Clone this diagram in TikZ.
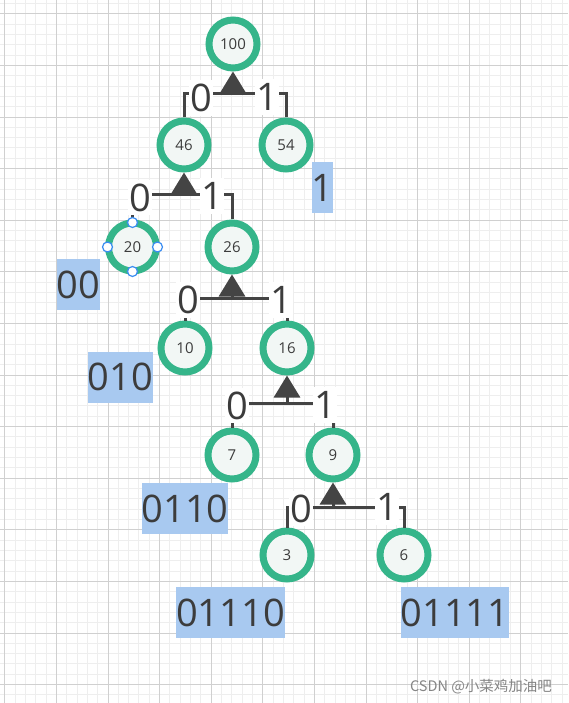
\documentclass[tikz,border=0pt]{standalone}
\usepackage{fontspec}
\setmainfont{Open Sans}
\newfontfamily\cjkfont{Noto Sans CJK SC}
\usetikzlibrary{arrows.meta}
\definecolor{ringgreen}{HTML}{35B58A}
\definecolor{nodefill}{HTML}{F2F7F5}
\definecolor{ink}{HTML}{3C3C3C}
\definecolor{edgegray}{HTML}{444444}
\definecolor{codeblue}{HTML}{A8C9F0}
\definecolor{gridminor}{HTML}{EEEEEE}
\definecolor{gridmajor}{HTML}{D0D0D0}
\definecolor{handleblue}{HTML}{3A8DF2}
\definecolor{markgray}{HTML}{858585}
\begin{document}
\begin{tikzpicture}[x=1pt,y=-1pt,
  tnode/.style={circle, draw=ringgreen, line width=7pt, fill=nodefill, minimum size=48pt, inner sep=0pt, text=ink, font=\fontsize{15}{17}\selectfont},
  edge/.style={draw=edgegray, line width=3pt},
  uparrow/.style={edge, -{Triangle[length=22pt,width=26pt]}},
  bitlabel/.style={fill=white, text=ink, inner xsep=1pt, inner ysep=4pt, font=\fontsize{38}{40}\selectfont},
  codebox/.style={fill=codeblue, text=ink, inner xsep=0pt, inner ysep=0pt, minimum height=51pt, font=\fontsize{38}{40}\selectfont},
  handle/.style={circle, draw=handleblue, fill=white, line width=1.2pt, minimum size=10pt, inner sep=0pt},
  gminor/.style={draw=gridminor, line width=1pt},
  gmajor/.style={draw=gridmajor, line width=1.2pt},
]
\useasboundingbox (0,0) rectangle (568,703);
\fill[white] (0,0) rectangle (568,703);
\begin{scope}
\clip (0,0) rectangle (568,703);
\foreach \i [evaluate=\i as \xx using {round(-6.02+\i*10.32)+0.5}] in {1,...,56} \draw[gminor] (\xx,0) -- (\xx,703);
\foreach \i [evaluate=\i as \yy using {round(2.98+\i*10.32)+0.5}] in {0,...,68} \draw[gminor] (0,\yy) -- (568,\yy);
\foreach \i [evaluate=\i as \xx using {round(4.3+\i*51.6)+0.5}] in {0,...,10} \draw[gmajor] (\xx,0) -- (\xx,703);
\foreach \i [evaluate=\i as \yy using {round(13.3+\i*51.6)+0.5}] in {0,...,13} \draw[gmajor] (0,\yy) -- (568,\yy);
\end{scope}

% tree nodes
\node[tnode] (n100) at (233,44) {100};
\node[tnode] (n46) at (184,145) {46};
\node[tnode] (n54) at (286,145) {54};
\node[tnode] (n20) at (132.5,247) {20};
\node[tnode] (n26) at (232,247) {26};
\node[tnode] (n10) at (185,348) {10};
\node[tnode] (n16) at (287,348) {16};
\node[tnode] (n7) at (232,455) {7};
\node[tnode] (n9) at (333,455) {9};
\node[tnode] (n3) at (287,555) {3};
\node[tnode] (n6) at (404,555) {6};

% junctions
\coordinate (j100) at (233,94);
\coordinate (j46) at (184,195);
\coordinate (j26) at (232,298.5);
\coordinate (j16) at (287,403);
\coordinate (j9) at (333,507);

% connectors
\draw[edge] (n46.north) |- (j100) -| (n54.north);
\draw[uparrow] (j100) -- (n100.south);
\draw[edge] (n20.north) |- (j46) -| (n26.north);
\draw[uparrow] (j46) -- (n46.south);
\draw[edge] (n10.north) |- (j26) -| (n16.north);
\draw[uparrow] (j26) -- (n26.south);
\draw[edge] (n7.north) |- (j16) -| (n9.north);
\draw[uparrow] (j16) -- (n16.south);
\draw[edge] (n3.north) |- (j9) -| (n6.north);
\draw[uparrow] (j9) -- (n9.south);

% edge labels
\node[bitlabel] (l100a) at (201,98) {0};
\node[bitlabel] (l100b) at (267,97) {1};
\node[bitlabel] (l46a) at (140,197.5) {0};
\node[bitlabel] (l46b) at (212,196) {1};
\node[bitlabel] (l26a) at (188,300) {0};
\node[bitlabel] (l26b) at (281,300) {1};
\node[bitlabel] (l16a) at (237,405.5) {0};
\node[bitlabel] (l16b) at (325,405) {1};
\node[bitlabel] (l9a) at (301,508.5) {0};
\node[bitlabel] (l9b) at (387,507) {1};

% selection handles on node 20
\node[handle] (h20n) at ([yshift=24.5pt]n20.center) {};
\node[handle] (h20s) at ([yshift=-24.5pt]n20.center) {};
\node[handle] (h20w) at ([xshift=-25pt]n20.center) {};
\node[handle] (h20e) at ([xshift=25pt]n20.center) {};

% codes
\node[codebox] (c54) at (322.5,187.5) {1};
\node[codebox] (c20) at (78.5,284.5) {00};
\node[codebox] (c10) at (120.5,377) {010};
\node[codebox] (c7) at (185,508.5) {0110};
\node[codebox] (c3) at (230.5,612.5) {01110};
\node[codebox] (c6) at (455,612.5) {01111};

% watermark
\node[text=markgray, font=\cjkfont\fontsize{14.5}{16}\selectfont] (wm) at (481,687) {CSDN @小菜鸡加油吧};
\end{tikzpicture}
\end{document}
